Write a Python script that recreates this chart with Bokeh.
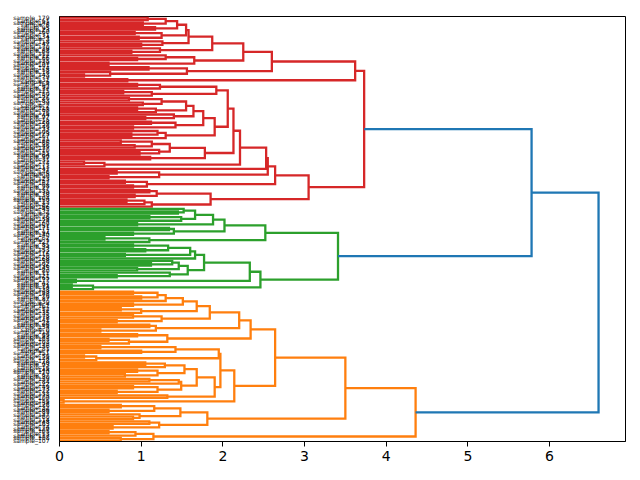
from bokeh.plotting import figure
from bokeh.models import Range1d, FixedTicker, ColumnDataSource
from bokeh.embed import file_html
from bokeh.resources import INLINE

# Merge height between each pair of neighbouring leaves, listed top to bottom.
RED_GAPS = [
    1.08, 1.30, 1.02, 1.44, 1.17, 1.55, 0.92, 1.25, 0.97, 1.58,
    1.26, 1.00, 1.87, 1.23, 0.88, 2.25, 1.30, 0.95, 1.65, 0.60,
    2.60, 1.09, 1.56, 0.62, 0.30, 3.62, 0.83, 3.73, 0.95, 1.23,
    1.92, 0.78, 1.13, 2.06, 0.85, 1.25, 1.02, 1.55, 0.95, 1.18,
    1.64, 1.40, 1.05, 1.76, 1.12, 1.42, 0.90, 1.90, 1.20, 0.88,
    1.30, 2.13, 0.75, 1.13, 0.92, 1.35, 1.22, 0.98, 1.78, 1.11,
    2.21, 0.30, 0.55, 2.53, 2.55, 0.70, 1.22, 0.60, 2.64, 0.80,
    1.07, 0.90, 3.05, 1.10, 1.19, 0.92, 1.85, 0.82, 1.04, 1.13,
]
RED_GREEN_JOIN = 5.78
GREEN_GAPS = [
    1.52, 1.45, 1.66, 1.10, 1.49, 1.88, 0.95, 2.02, 1.34, 1.40,
    0.90, 2.52, 0.55, 1.10, 3.41, 0.90, 1.33, 1.05, 1.60, 0.80,
    1.66, 1.77, 1.38, 1.12, 1.46, 0.95, 1.57, 1.35, 0.70, 2.33,
    0.20, 2.46, 0.15, 0.41,
]
ROOT_JOIN = 6.60
ORANGE_GAPS = [
    0.90, 1.20, 1.00, 1.30, 1.51, 0.90, 1.68, 0.75, 1.00, 1.84,
    0.90, 1.25, 0.70, 2.20, 1.10, 1.18, 0.50, 2.34, 0.95, 1.32,
    0.60, 0.85, 2.64, 0.50, 1.42, 1.00, 1.95, 0.30, 0.45, 1.97,
    1.05, 1.29, 1.53, 0.95, 1.20, 0.80, 1.68, 1.10, 1.46, 1.49,
    0.90, 1.20, 0.70, 1.90, 1.32, 2.14, 0.05, 3.50, 0.75, 1.16,
    0.60, 1.48, 0.98, 0.90, 1.81, 1.10, 1.22, 0.65, 4.36, 0.60,
    0.93, 1.15, 0.75,
]

# Sample numbers of the leaves, top to bottom.
RED_IDS = [
    179, 61, 142, 8, 95, 23, 160, 71, 134, 3, 118, 47, 170, 29, 88, 152, 12,
    66, 125, 39, 101, 174, 55, 18, 143, 79, 131, 6, 164, 92, 37, 115, 50, 157,
    26, 83, 139, 2, 111, 68, 176, 44, 97, 15, 128, 59, 149, 33, 106, 73, 167,
    21, 120, 86, 46, 137, 10, 155, 64, 99, 31, 172, 77, 113, 41, 146, 5, 90,
    123, 57, 162, 98, 27, 135, 70, 38, 104, 150, 13, 82, 166,
]
GREEN_IDS = [
    45, 132, 9, 76, 158, 24, 109, 51, 171, 17, 94, 140, 62, 1, 127, 85, 34,
    153, 72, 116, 20, 168, 58, 102, 36, 145, 80, 11, 121, 65, 177, 42, 91, 14,
    138,
]
ORANGE_IDS = [
    63, 148, 19, 87, 130, 4, 161, 52, 112, 35, 175, 78, 141, 28, 96, 154, 0,
    119, 69, 43, 165, 103, 25, 136, 81, 7, 151, 56, 124, 178, 40, 93, 16, 144,
    110, 67, 30, 159, 84, 122, 49, 173, 22, 133, 75, 100, 156, 54, 126, 32,
    169, 89, 147, 60, 114, 48, 163, 74, 129, 105, 53, 117, 108, 107,
]

CLUSTER_COLORS = ["#d62728", "#2ca02c", "#ff7f0e"]
ABOVE_COLOR = "#1f77b4"
X_TICKS = [0, 1, 2, 3, 4, 5, 6]

ids = RED_IDS + GREEN_IDS + ORANGE_IDS
gaps = RED_GAPS + [RED_GREEN_JOIN] + GREEN_GAPS + [ROOT_JOIN] + ORANGE_GAPS
n = len(ids)
cluster_of = [0] * len(RED_IDS) + [1] * len(GREEN_IDS) + [2] * len(ORANGE_IDS)
top_height = max(gaps)
threshold = 0.7 * top_height

# leaf positions follow the usual dendrogram layout: 5, 15, 25 ... from the bottom
leaf_y = [10 * (n - 1 - i) + 5 for i in range(n)]

xs, ys, cols = [], [], []


def build(lo, hi):
    """Split the leaf run at its highest neighbour gap and draw the bracket."""
    if lo == hi:
        return leaf_y[lo], 0.0
    k = max(range(lo, hi), key=lambda j: gaps[j])
    ya, ha = build(lo, k)
    yb, hb = build(k + 1, hi)
    h = gaps[k]
    xs.append([ha, h, h, hb])
    ys.append([ya, ya, yb, yb])
    if h < threshold and cluster_of[lo] == cluster_of[hi]:
        cols.append(CLUSTER_COLORS[cluster_of[lo]])
    else:
        cols.append(ABOVE_COLOR)
    return (ya + yb) / 2.0, h


build(0, n - 1)

src = ColumnDataSource(dict(xs=xs, ys=ys, color=cols))

p = figure(
    width=640, height=480, output_backend="svg", toolbar_location=None,
    x_range=Range1d(0, top_height * 1.05), y_range=Range1d(0, 10 * n),
    min_border_left=59, min_border_right=15, min_border_top=16, min_border_bottom=39,
    background_fill_color="white", border_fill_color="white",
)
p.multi_line("xs", "ys", line_color="color", line_width=2.3,
             line_join="miter", line_cap="butt", source=src)

p.xgrid.visible = False
p.ygrid.visible = False
p.outline_line_color = "black"
p.outline_line_width = 1
p.outline_line_alpha = 1

xa = p.xaxis[0]
xa.ticker = FixedTicker(ticks=X_TICKS)
xa.major_label_text_font = "DejaVu Sans"
xa.major_label_text_font_size = "14px"
xa.major_label_text_color = "black"
xa.major_tick_out = 5
xa.major_tick_in = 0
xa.major_tick_line_color = "black"
xa.axis_line_color = "black"
xa.major_label_standoff = 4

ya_ = p.yaxis[0]
ya_.ticker = FixedTicker(ticks=leaf_y)
ya_.major_label_overrides = {leaf_y[i]: "sample_%d" % ids[i] for i in range(n)}
ya_.major_label_text_font = "DejaVu Sans"
ya_.major_label_text_font_size = "6px"
ya_.major_label_text_color = "black"
ya_.major_tick_line_color = None
ya_.major_tick_out = 0
ya_.major_tick_in = 0
ya_.major_label_standoff = 10
ya_.axis_line_color = "black"

open("out.html", "w").write(file_html(p, INLINE))
